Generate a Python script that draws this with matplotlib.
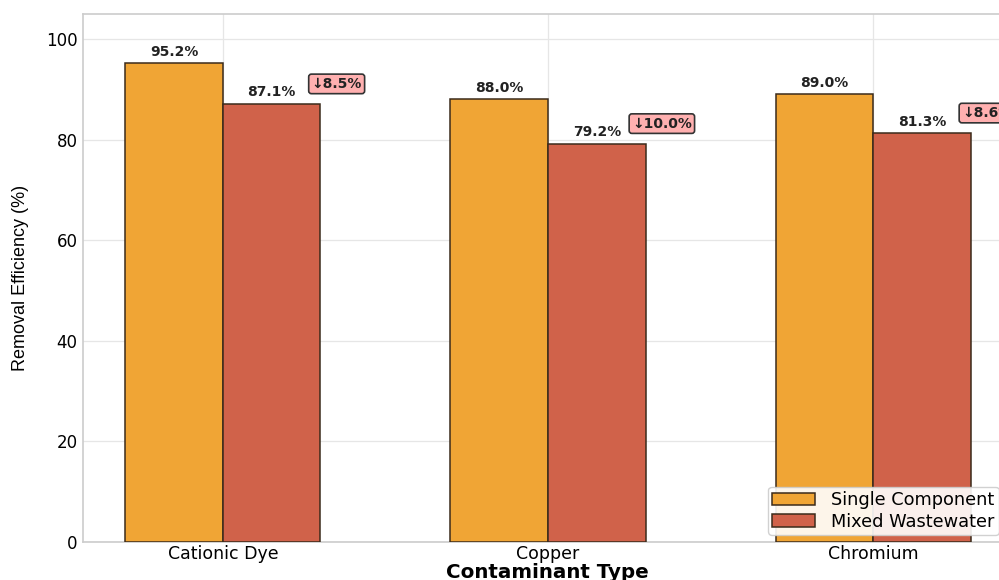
import matplotlib
matplotlib.use('Agg')
import matplotlib.pyplot as plt
import numpy as np

contaminants = ['Cationic Dye', 'Copper', 'Chromium']
single_component = [95.2, 88.0, 89.0]
mixed_wastewater = [87.1, 79.2, 81.3]
reduction = [8.5, 10.0, 8.6]

plt.rcParams['font.family'] = ['DejaVu Sans']

fig = plt.figure(figsize=(9.99, 5.80), dpi=100)
# axes run past the right edge of the canvas
ax = fig.add_axes([83 / 999, 38 / 580, 1000 / 999, 528 / 580])

x = np.arange(len(contaminants))
width = 0.3
orange = '#F0A535'
red = '#D0624A'

bars1 = ax.bar(x - width / 2, single_component, width, color=orange, edgecolor='#3b2b1b',
               linewidth=1.1, label='Single Component', zorder=3)
bars2 = ax.bar(x + width / 2, mixed_wastewater, width, color=red, edgecolor='#3b2b1b',
               linewidth=1.1, label='Mixed Wastewater', zorder=3)

for b, v in zip(bars1, single_component):
    ax.text(b.get_x() + b.get_width() / 2, v + 0.9, f'{v:.1f}%', ha='center', va='bottom',
            fontsize=10, fontweight='bold', color='#222222', zorder=4)
for b, v in zip(bars2, mixed_wastewater):
    ax.text(b.get_x() + b.get_width() / 2, v + 0.9, f'{v:.1f}%', ha='center', va='bottom',
            fontsize=10, fontweight='bold', color='#222222', zorder=4)

for i, (v, r) in enumerate(zip(mixed_wastewater, reduction)):
    ax.text(x[i] + 0.35, v + 4.0, f'\u2193{r:.1f}%', ha='center', va='center',
            fontsize=10, fontweight='bold', color='#222222', zorder=5,
            bbox=dict(boxstyle='round,pad=0.2', facecolor='#FFB0B0', edgecolor='#333333', linewidth=1.2))

ax.set_xlim(-0.43, 2.645)
ax.set_ylim(0, 105)
ax.set_xticks(x)
ax.set_xticklabels(contaminants, fontsize=12.5)
ax.set_yticks([0, 20, 40, 60, 80, 100])
ax.tick_params(axis='y', labelsize=12, length=0, pad=4)
ax.tick_params(axis='x', length=0, pad=2)

ax.set_ylabel('Removal Efficiency (%)', fontsize=13, family=['Liberation Sans Narrow', 'Liberation Sans'],
              labelpad=12)
ax.set_xlabel('Contaminant Type', fontsize=14.3, fontweight='bold', labelpad=0)
# keep the x label under the middle group
ax.xaxis.set_label_coords((547 - 83) / 1000, -0.040)

ax.grid(True, color='#e6e6e6', linewidth=0.9, zorder=0)
ax.set_axisbelow(True)
for s in ax.spines.values():
    s.set_color('#cccccc')
    s.set_linewidth(1.2)

fig.legend(loc='lower left', bbox_to_anchor=(768 / 999, 45 / 580), fontsize=12.8, frameon=True,
           fancybox=True, framealpha=0.9, edgecolor='#cccccc', borderpad=0.25, labelspacing=0.2,
           handlelength=2.4, handletextpad=0.9, borderaxespad=0)

fig.savefig('out.png', dpi=100)
